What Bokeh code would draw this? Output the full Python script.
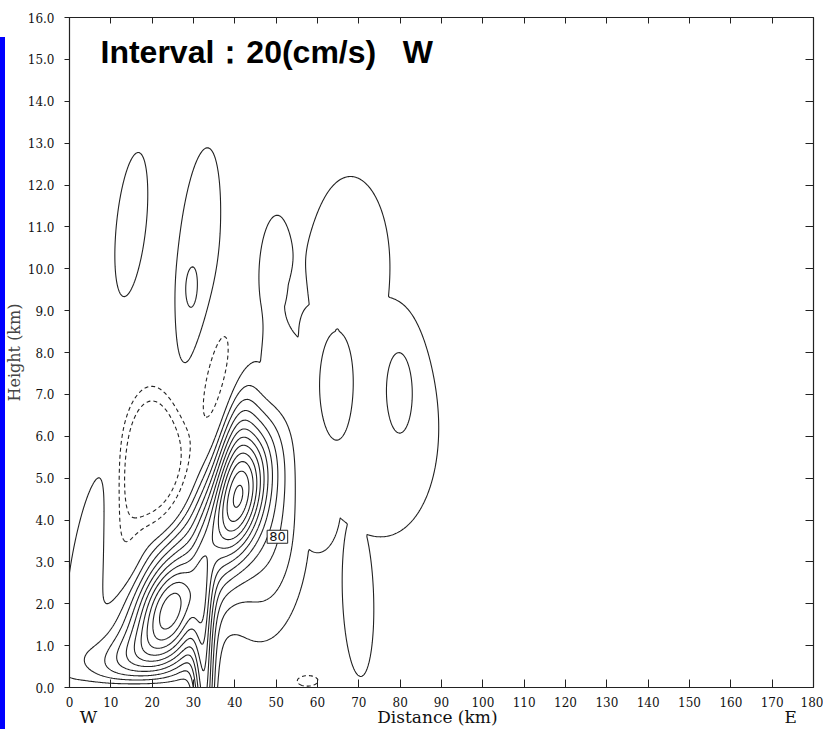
import numpy as np
from bokeh.plotting import figure
from bokeh.models import Range1d, LinearAxis, FixedTicker, Label, PrintfTickFormatter
from bokeh.embed import file_html
from bokeh.resources import INLINE

# ---------------- axes ----------------
x_ticks = list(range(0, 181, 10))
y_ticks = [float(k) for k in range(0, 17)]
side_ticks = [4.6, 89.0, 174.5]
side_labels = ["W", "Distance (km)", "E"]
levels_neg = [-40, -20]
levels_pos = [20, 40, 60, 80, 100, 120, 140, 160, 180, 200, 220, 240, 260]

# ---------------- field components ----------------
# centre distance (km), centre height (km), spread along / across the blob axis
# (picture units: km horizontally, 0.1 km vertically), axis angle (deg), amplitude (cm/s),
# shape exponent (1 gaussian, 2 flat top), damped toward the ground (1/0),
# group: 0 main updraft (summed), 1 broad weak updraft (maximum), 2 cells inside it,
#        3 isolated cells, 4 downdrafts
blob_x    = [24.5, 41.0, 40.5, 30.0, 14.0, 48.0, 32.5,
             68.0, 73.5, 60.0, 53.0, 69.8, 58.5,
             64.0, 80.0,
             14.9, 31.1, 29.2, 49.3, 4.5,
             20.5, 13.5, 35.0, 57.5]
blob_h    = [1.75, 4.6, 6.1, 3.0, 0.6, 3.5, 0.0,
             10.1, 6.5, 4.3, 6.6, 2.2, 8.4,
             7.35, 7.1,
             11.07, 10.2, 9.5, 10.05, 3.0,
             5.5, 3.9, 7.3, 0.165]
blob_sl   = [9, 11, 10, 24, 9, 17, 18,
             19.5, 27, 10, 15, 18, 6,
             13.5, 9.5,
             19, 25.5, 4.5, 13.5, 21,
             12, 9, 13, 3.35]
blob_ss   = [5.5, 4.2, 3.0, 6.5, 5, 7, 1.8,
             8.8, 14.5, 5, 6.5, 3.5, 2.5,
             4.0, 3.0,
             3.9, 4.7, 1.4, 3.8, 3.8,
             6, 3, 3.0, 1.65]
blob_ang  = [75, 78, 80, 58, 15, 85, 90,
             90, 95, 90, 90, 92, 90,
             90, 90,
             84, 85, 90, 86, 80,
             90, 90, 80, 0]
blob_amp  = [140, 150, 50, 85, 45, 55, 110,
             28, 28, 28, 28, 28, 28,
             24, 22,
             30, 35, 14, 30, 35,
             -65, -30, -40, -28]
blob_pow  = [1, 1, 1, 1, 1, 1, 1,
             2, 2, 2, 2, 2, 2,
             1, 1,
             1, 1, 1, 1, 1,
             2, 1, 1, 1]
blob_damp = [1, 1, 1, 1, 1, 1, 0,
             0, 0, 0, 0, 0, 0,
             1, 1,
             1, 1, 1, 1, 1,
             1, 1, 1, 0]
blob_group = [0, 0, 0, 0, 0, 0, 0,
              1, 1, 1, 1, 1, 1,
              2, 2,
              3, 3, 3, 3, 3,
              4, 4, 4, 4]
ground_depth = 2.5  # picture units (0.1 km)

xs = np.linspace(0, 180, 721)
ys = np.linspace(0, 16, 321)
X, Y = np.meshgrid(xs, ys * 10.0)
parts = [np.zeros_like(X) for _ in range(5)]
damp = 1.0 - np.exp(-Y / ground_depth)
for cx, ch, sl, ss, ang, amp, pw, dmp, grp in zip(blob_x, blob_h, blob_sl, blob_ss, blob_ang,
                                                  blob_amp, blob_pow, blob_damp, blob_group):
    t = np.deg2rad(ang)
    dx = X - cx
    dy = Y - ch * 10.0
    u = dx * np.cos(t) + dy * np.sin(t)
    v = -dx * np.sin(t) + dy * np.cos(t)
    q = 0.5 * ((u / sl) ** 2 + (v / ss) ** 2)
    g = amp * np.exp(-(q ** pw))
    if dmp:
        g = g * damp
    if grp == 1:
        parts[1] = np.maximum(parts[1], g)
    else:
        parts[grp] += g
Z = np.maximum(parts[0], parts[1] + parts[2]) + parts[3] + parts[4]

# ---------------- figure ----------------
p = figure(width=823, height=729, x_range=Range1d(0, 180), y_range=Range1d(0, 16),
           output_backend="svg", toolbar_location=None,
           min_border_left=69, min_border_right=10, min_border_top=17, min_border_bottom=41,
           x_axis_location=None, y_axis_location=None)
p.grid.visible = False
p.outline_line_color = "#222222"
p.outline_line_width = 1.2
p.background_fill_color = "white"
p.border_fill_color = None
p.styles = {"background": "linear-gradient(#0000ff, #0000ff) 0px 37px / 5px 692px no-repeat, #ffffff"}

tick_font = "DejaVu Serif"

left = LinearAxis(ticker=FixedTicker(ticks=y_ticks), formatter=PrintfTickFormatter(format="%.1f"),
                  major_tick_in=0, major_tick_out=5, minor_tick_line_color=None,
                  major_label_text_font=tick_font, major_label_text_font_size="12px",
                  major_label_standoff=10, axis_label="Height (km)",
                  axis_label_text_font=tick_font, axis_label_text_font_size="16px",
                  axis_label_text_font_style="normal", axis_label_standoff=1)
p.add_layout(left, "left")

bottom = LinearAxis(ticker=FixedTicker(ticks=x_ticks), formatter=PrintfTickFormatter(format="%d"),
                    major_tick_in=8, major_tick_out=0, minor_tick_line_color=None,
                    major_label_text_font=tick_font, major_label_text_font_size="12px",
                    major_label_standoff=9)
p.add_layout(bottom, "below")

names = LinearAxis(ticker=FixedTicker(ticks=side_ticks),
                   major_label_overrides={t: s for t, s in zip(side_ticks, side_labels)},
                   major_tick_in=0, major_tick_out=0, minor_tick_line_color=None,
                   axis_line_color=None, major_tick_line_color=None,
                   major_label_text_font=tick_font, major_label_text_font_size="17px",
                   major_label_standoff=-3)
p.add_layout(names, "below")

right = LinearAxis(ticker=FixedTicker(ticks=y_ticks), major_tick_in=8, major_tick_out=0,
                   minor_tick_line_color=None, major_label_overrides={t: "" for t in y_ticks})
p.add_layout(right, "right")
top = LinearAxis(ticker=FixedTicker(ticks=x_ticks), major_tick_in=6, major_tick_out=0,
                 minor_tick_line_color=None, major_label_overrides={t: "" for t in x_ticks})
p.add_layout(top, "above")
for ax in (left, bottom, right, top):
    ax.axis_line_color = "#222222"
    ax.major_tick_line_color = "#222222"
for ax in (left, bottom, names):
    ax.major_label_text_color = "#111111"

# ---------------- contours ----------------
p.contour(xs, ys, Z, levels_neg, line_color="#222222", line_width=1.1, line_dash="4 3")
p.contour(xs, ys, Z, levels_pos, line_color="#222222", line_width=1.1)

# contour label
p.add_layout(Label(x=50.3, y=3.6, text="80", text_align="center", text_baseline="middle",
                   text_font="DejaVu Sans", text_font_size="13px", text_color="#111111",
                   background_fill_color="white", border_line_color="#222222",
                   padding=2))

# title
p.add_layout(Label(x=7.5, y=15.17, text="Interval\uff1a20(cm/s)\u00a0\u00a0\u00a0W",
                   text_font="Liberation Sans", text_font_style="bold", text_font_size="32px",
                   text_color="black", text_baseline="middle"))

open("out.html", "w").write(file_html(p, INLINE))
